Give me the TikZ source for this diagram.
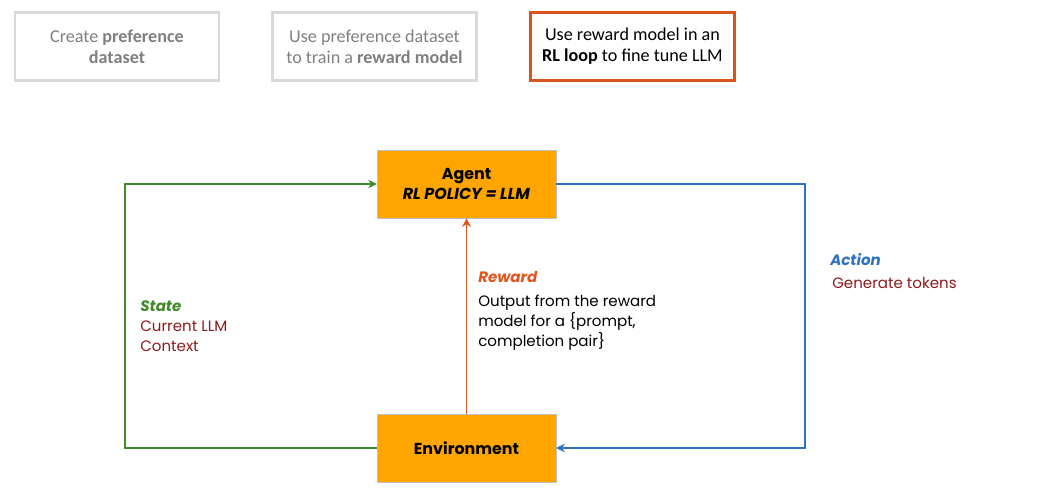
\documentclass[tikz,border=0pt]{standalone}
\usepackage{fontspec}
\setmainfont{Poppins}
\newfontfamily\calib{Carlito}
\usetikzlibrary{arrows.meta}
\definecolor{boxorange}{HTML}{FFA500}
\definecolor{frameorange}{HTML}{D9541E}
\definecolor{stategreen}{HTML}{3F8B2A}
\definecolor{actionblue}{HTML}{2F72C4}
\definecolor{rewardred}{HTML}{E0561E}
\definecolor{darkred}{HTML}{8E1B1B}
\definecolor{paleframe}{HTML}{D9D9D9}
\definecolor{paletext}{HTML}{7F7F7F}
\tikzset{
  stage/.style={draw=paleframe, line width=1.6pt, minimum width=153pt, minimum height=51pt,
    align=center, text=paletext, font=\calib\fontsize{13.6}{15.8}\selectfont},
  rlbox/.style={draw=black!25, fill=boxorange, minimum width=134pt, minimum height=51pt,
    align=center, font=\fontsize{11.9}{14.5}\selectfont\bfseries},
  loop/.style={line width=1.4pt, -{Stealth[length=6.5pt,width=6.5pt]}},
  lbl/.style={anchor=west, align=left, inner sep=0pt, font=\fontsize{11.3}{15}\selectfont}
}
\begin{document}
\begin{tikzpicture}[x=0.75pt, y=-0.75pt]
      \useasboundingbox (0,0) rectangle (1042,502);
      % stages at the top
      \node[stage] (s1) at (117, 46.5) {Create \textbf{preference}\\\textbf{dataset}};
      \node[stage] (s2) at (374.5, 46.5) {Use preference dataset\\to train a \textbf{reward model}};
      \node[stage, draw=frameorange, text=black] (s3) at (632.5, 46.5) {Use reward model in an\\\textbf{RL loop} to fine tune LLM};
      % the RL loop
      \node[rlbox] (agent) at (466.5, 184) {Agent\\\textit{RL POLICY = LLM}};
      \node[rlbox] (env) at (466.5, 448) {Environment};
      \draw[loop, stategreen] (env.west) -- ++(-252,0) |- (agent.west);
      \draw[loop, actionblue] (agent.east) -- ++(249,0) |- (env.east);
      \draw[loop, rewardred] (env.north) -- (agent.south);
      \node[lbl] (state) at (140, 326) {\color{stategreen}\textbf{\textit{State}}\\\color{darkred}Current LLM\\\color{darkred}Context};
      \node[lbl] (reward) at (478, 277) {\color{rewardred}\textbf{\textit{Reward}}};
      \node[lbl] (rewardtxt) at (478, 323) {Output from the reward\\model for a \{prompt,\\completion pair\}};
      \node[lbl] (action) at (830, 260) {\color{actionblue}\textbf{\textit{Action}}};
      \node[lbl] (actiontxt) at (832, 283) {\color{darkred}Generate tokens};
\end{tikzpicture}
\end{document}
